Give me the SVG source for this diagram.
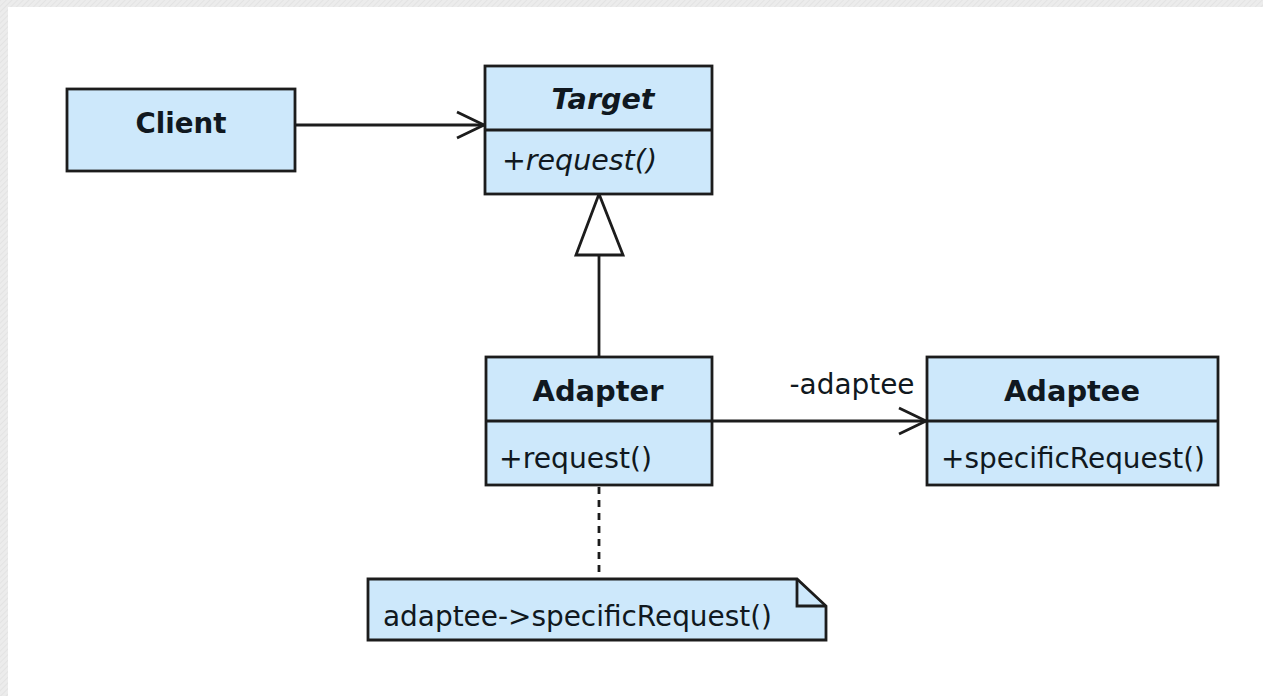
<svg xmlns="http://www.w3.org/2000/svg" width="1263" height="696" viewBox="0 0 1263 696">
<style>
.box{fill:#cde8fb;stroke:#1c1c1c;stroke-width:2.8}
.ln{stroke:#1c1c1c;stroke-width:2.8;fill:none}
.t{font-family:"DejaVu Sans",Verdana,sans-serif;font-size:28px;fill:#101820}
.b{font-weight:bold;text-anchor:middle}
.i{font-style:italic}
</style>
<defs>
<pattern id="hatch" width="4" height="4" patternUnits="userSpaceOnUse" patternTransform="rotate(45)">
<rect width="4" height="4" fill="#ececec"/>
<line x1="0" y1="0" x2="0" y2="4" stroke="#e0e0e0" stroke-width="1.5"/>
</pattern>
</defs>
<rect width="1263" height="696" fill="#ffffff"/>
<rect x="0" y="0" width="1263" height="7" fill="url(#hatch)"/>
<rect x="0" y="0" width="8" height="696" fill="url(#hatch)"/>

<g id="connectors">
<line class="ln" x1="295" y1="125" x2="484" y2="125"/>
<polyline class="ln" points="457,112 484,125 457,138"/>
<polygon class="ln" points="599,194 576,255 623,255" fill="#ffffff"/>
<line class="ln" x1="599" y1="255" x2="599" y2="357"/>
<line class="ln" x1="712" y1="421" x2="926" y2="421"/>
<polyline class="ln" points="899,408 926,421 899,434"/>
<line class="ln" x1="599" y1="487" x2="599" y2="579" stroke-dasharray="7,6"/>
<text class="t" x="852" y="394" text-anchor="middle" textLength="125" lengthAdjust="spacingAndGlyphs">-adaptee</text>
</g>

<g id="client">
<rect class="box" x="67" y="89" width="228" height="82"/>
<text class="t b" x="181" y="133" textLength="91" lengthAdjust="spacingAndGlyphs">Client</text>
</g>

<g id="target">
<rect class="box" x="485" y="66" width="227" height="128"/>
<line class="ln" x1="485" y1="130" x2="712" y2="130"/>
<text class="t b i" x="603" y="109" textLength="103" lengthAdjust="spacingAndGlyphs">Target</text>
<text class="t i" x="502" y="170" textLength="155" lengthAdjust="spacingAndGlyphs">+request()</text>
</g>

<g id="adapter">
<rect class="box" x="486" y="357" width="226" height="128"/>
<line class="ln" x1="486" y1="421" x2="712" y2="421"/>
<text class="t b" x="598" y="401" textLength="131" lengthAdjust="spacingAndGlyphs">Adapter</text>
<text class="t" x="499" y="468" textLength="153" lengthAdjust="spacingAndGlyphs">+request()</text>
</g>

<g id="adaptee">
<rect class="box" x="927" y="357" width="291" height="128"/>
<line class="ln" x1="927" y1="421" x2="1218" y2="421"/>
<text class="t b" x="1072" y="401" textLength="136" lengthAdjust="spacingAndGlyphs">Adaptee</text>
<text class="t" x="941" y="468" textLength="264" lengthAdjust="spacingAndGlyphs">+specificRequest()</text>
</g>

<g id="note">
<path class="box" d="M368,579 H797 L826,606 V640 H368 Z"/>
<polyline class="ln" points="797,579 797,606 826,606"/>
<text class="t" x="383" y="626" textLength="389" lengthAdjust="spacingAndGlyphs">adaptee-&gt;specificRequest()</text>
</g>
</svg>
